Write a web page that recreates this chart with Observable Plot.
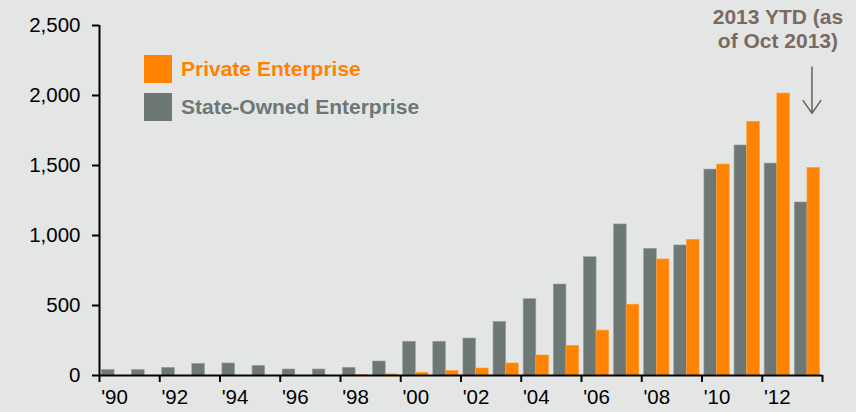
<!DOCTYPE html>
<html><head><meta charset="utf-8">
<script src="https://cdn.jsdelivr.net/npm/d3@7"></script>
<script src="https://cdn.jsdelivr.net/npm/@observablehq/plot@0.6"></script>
<style>
body{margin:0;background:#e4e6e5;}
#chart{position:relative;width:856px;height:412px;overflow:hidden;}
.legend{position:absolute;left:144px;top:55px;font:bold 21px "Liberation Sans",Arial,sans-serif;}
.item{display:flex;align-items:center;height:37px;}
.item:first-child{height:28px;margin-bottom:9px;}
.item:last-child{height:29px;}
.sw{width:28px;height:28px;margin-right:9px;}
</style></head><body><div id="chart"></div>
<script>
const years = [1990,1991,1992,1993,1994,1995,1996,1997,1998,1999,2000,2001,2002,2003,2004,2005,2006,2007,2008,2009,2010,2011,2012,2013];
const stateOwned = [40,40,55,83,86,69,43,43,55,100,241,241,264,383,545,650,845,1079,905,929,1471,1643,1514,1236];
const privateEnt = [0,0,0,0,0,0,0,0,3,8,20,33,50,86,143,212,321,506,829,969,1507,1812,2014,1483];
const xTickYears = [1990,1992,1994,1996,1998,2000,2002,2004,2006,2008,2010,2012,2014];
const xLabelYears = [1990,1992,1994,1996,1998,2000,2002,2004,2006,2008,2010,2012];
const yTicks = [0,500,1000,1500,2000,2500];
const seriesNames = ["Private Enterprise","State-Owned Enterprise"];
const seriesColors = ["#ff8300","#6d7774"];
const annotationLines = ["2013 YTD (as","of Oct 2013)"];

const data = years.map((y,i)=>({year:y, soe:stateOwned[i], priv:privateEnt[i]}));
const last = data[data.length-1];

const plot = Plot.plot({
  width:856, height:412,
  marginLeft:99, marginRight:34, marginTop:25, marginBottom:37,
  style:{background:"#e4e6e5", fontFamily:'"Liberation Sans", Arial, sans-serif', fontSize:"20.5px", color:"#000", overflow:"visible"},
  x:{domain:[1990,2014]},
  y:{domain:[0,2500]},
  marks:[
    Plot.rect(data,{x1:d=>d.year+0.08, x2:d=>d.year+0.5, y1:0, y2:"soe", fill:seriesColors[1], stroke:"#9aa19f", strokeWidth:0.6}),
    Plot.rect(data.filter(d=>d.priv>0),{x1:d=>d.year+0.5, x2:d=>d.year+0.92, y1:0, y2:"priv", fill:seriesColors[0], stroke:"#ffa040", strokeWidth:0.6}),
    Plot.axisY({ticks:yTicks, tickSize:7, tickPadding:12, tickFormat:d3.format(","), label:null, stroke:"#000", strokeWidth:2, fill:"#000", strokeOpacity:1}),
    Plot.axisX({ticks:xTickYears, tickSize:7, tickFormat:()=>"", label:null, stroke:"#000", strokeWidth:2, strokeOpacity:1}),
    Plot.text(xLabelYears,{x:d=>d+0.5, text:d=>"'"+String(d).slice(2), frameAnchor:"bottom", lineAnchor:"top", dy:14, fill:"#000"}),
    Plot.ruleY([0],{stroke:"#000", strokeWidth:2}),
    Plot.ruleX([1990],{stroke:"#000", strokeWidth:2}),
    Plot.text([annotationLines.join("\n")],{x:()=>last.year-0.48, frameAnchor:"top", lineAnchor:"top", dy:-18, fontWeight:"bold", fontSize:21, fill:"#7b6a62", lineHeight:1.12}),
    Plot.arrow([last],{x1:d=>d.year+0.65, x2:d=>d.year+0.65, y1:d=>d.priv+720, y2:d=>d.priv+390, stroke:"#6e5f58", strokeWidth:1.5, headLength:17, headAngle:70})
  ]
});

const chart = document.getElementById("chart");
chart.appendChild(plot);
const legend = document.createElement("div");
legend.className = "legend";
seriesNames.forEach((n,i)=>{
  const it = document.createElement("div");
  it.className = "item";
  it.innerHTML = `<div class="sw" style="background:${seriesColors[i]}"></div><span style="color:${seriesColors[i]}">${n}</span>`;
  legend.appendChild(it);
});
chart.appendChild(legend);
</script>
</body></html>
